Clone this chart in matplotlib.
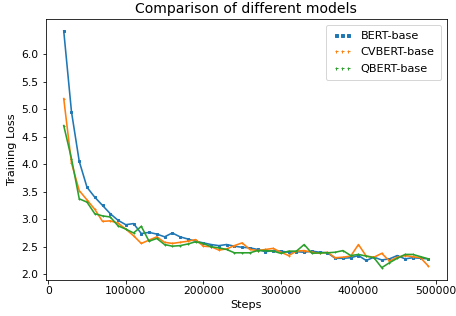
import matplotlib
matplotlib.use("Agg")
import matplotlib.pyplot as plt
from matplotlib.ticker import FixedLocator
from matplotlib.lines import Line2D

steps = list(range(20000, 490001, 10000))

bert = [6.42, 4.95, 4.05, 3.58, 3.40, 3.25, 3.10, 2.98, 2.90, 2.92,
        2.74, 2.76, 2.73, 2.68, 2.75, 2.68, 2.64, 2.60, 2.57, 2.54,
        2.52, 2.54, 2.51, 2.49, 2.48, 2.45, 2.41, 2.43, 2.42, 2.40,
        2.41, 2.40, 2.42, 2.40, 2.39, 2.29, 2.29, 2.30, 2.34, 2.25,
        2.31, 2.26, 2.28, 2.34, 2.28, 2.30, 2.29, 2.28]

cvbert = [5.19, 4.02, 3.52, 3.35, 3.18, 2.96, 2.97, 2.93, 2.82, 2.70,
          2.56, 2.62, 2.68, 2.58, 2.56, 2.58, 2.60, 2.63, 2.51, 2.50,
          2.44, 2.46, 2.52, 2.57, 2.45, 2.43, 2.45, 2.47, 2.40, 2.34,
          2.42, 2.43, 2.40, 2.38, 2.40, 2.30, 2.31, 2.33, 2.54, 2.33,
          2.31, 2.38, 2.24, 2.31, 2.34, 2.32, 2.30, 2.15]

qbert = [4.70, 4.10, 3.37, 3.31, 3.10, 3.06, 3.04, 2.88, 2.82, 2.75,
         2.87, 2.60, 2.65, 2.54, 2.51, 2.52, 2.55, 2.59, 2.56, 2.50,
         2.48, 2.45, 2.39, 2.39, 2.39, 2.43, 2.43, 2.42, 2.38, 2.42,
         2.42, 2.54, 2.38, 2.39, 2.39, 2.40, 2.43, 2.34, 2.36, 2.33,
         2.30, 2.12, 2.21, 2.29, 2.36, 2.36, 2.32, 2.28]

yticks = [2.0, 2.5, 3.0, 3.5, 4.0, 4.5, 5.0, 5.5, 6.0]

labels = ["BERT-base", "CVBERT-base", "QBERT-base"]
colors = ["#1f77b4", "#ff7f0e", "#2ca02c"]
markers = ["s", "+", "+"]

fig = plt.figure(figsize=(456/72, 316/72), dpi=72)
ax = fig.add_axes([45.5/456, 1 - 279.5/316, 401/456, 260.5/316])

for ys, c, m in zip([bert, cvbert, qbert], colors, markers):
    ax.plot(steps, ys, color=c, lw=1.6, marker=m, ms=2)

handles = [Line2D([], [], color=colors[0], ls="none", marker="s", ms=3.0),
           Line2D([], [], color=colors[1], ls="none", marker="+", ms=3.0),
           Line2D([], [], color=colors[2], ls="none", marker="+", ms=3.0)]
ax.legend(handles, labels, loc="upper right", numpoints=3, fontsize=11.3,
          labelspacing=0.57, borderpad=0.55, handlelength=1.7)

ax.yaxis.set_major_locator(FixedLocator(yticks))
ax.set_title("Comparison of different models", fontsize=14)
ax.set_xlabel("Steps", fontsize=11.3)
ax.set_ylabel("Training Loss", fontsize=11.3)
ax.tick_params(labelsize=10.8)

fig.savefig("out.png", dpi=72)
